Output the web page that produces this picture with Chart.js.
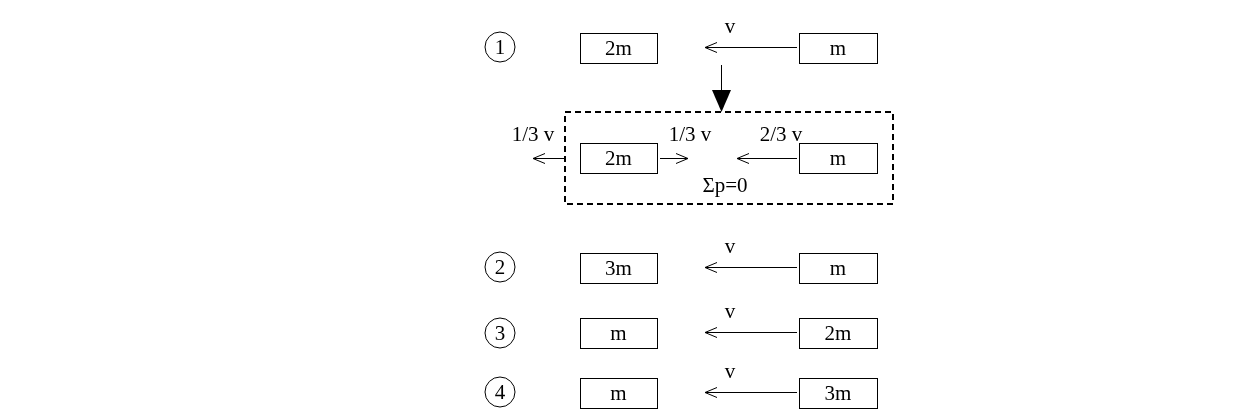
<!DOCTYPE html>
<html>
<head>
<meta charset="utf-8">
<script src="https://cdn.jsdelivr.net/npm/chart.js@4/dist/chart.umd.min.js"></script>
<style>
  html, body { margin: 0; padding: 0; background: #fff; }
  #wrap { width: 1241px; height: 413px; }
</style>
</head>
<body>
<div id="wrap"><canvas id="diagram"></canvas></div>
<script>
// boxes: [x1, y1, x2, y2, label]
const boxes = [
  [580, 33, 657, 63, "2m"], [799, 33, 877, 63, "m"],
  [580, 143, 657, 173, "2m"], [799, 143, 877, 173, "m"],
  [580, 253, 657, 283, "3m"], [799, 253, 877, 283, "m"],
  [580, 318, 657, 348, "m"], [799, 318, 877, 348, "2m"],
  [580, 378, 657, 408, "m"], [799, 378, 877, 408, "3m"]
];
// arrows: [fromX, fromY, toX, toY]
const arrows = [
  [797, 47, 705, 47], [564, 158, 533, 158], [660, 158, 688, 158],
  [797, 158, 737, 158], [797, 267, 705, 267], [797, 332, 705, 332],
  [797, 392, 705, 392]
];
// labels: [x, y, text]
const labels = [
  [730, 27, "v"], [533, 135, "1/3 v"], [690, 135, "1/3 v"], [781, 135, "2/3 v"],
  [725, 186, "Σp=0"], [730, 247, "v"], [730, 312, "v"], [730, 372, "v"]
];
// circled numbers: [x, y, text]
const circles = [[500, 47, "1"], [500, 267, "2"], [500, 333, "3"], [500, 392, "4"]];
const dashedFrame = [565, 112, 893, 204];
const downArrow = [721, 65, 721, 112];

const diagramPlugin = {
  id: "diagram",
  afterDraw(chart) {
    const ctx = chart.ctx;
    const X = (v) => chart.scales.x.getPixelForValue(v);
    const Y = (v) => chart.scales.y.getPixelForValue(v);
    ctx.save();
    ctx.strokeStyle = "#000";
    ctx.fillStyle = "#000";
    ctx.lineWidth = 1;
    ctx.font = "21px 'Liberation Serif', serif";
    ctx.textAlign = "center";
    ctx.textBaseline = "middle";

    boxes.forEach(([x1, y1, x2, y2, t]) => {
      ctx.strokeRect(X(x1) + 0.5, Y(y1) + 0.5, X(x2) - X(x1), Y(y2) - Y(y1));
      ctx.fillText(t, X((x1 + x2) / 2), Y((y1 + y2) / 2) + 1);
    });

    arrows.forEach(([x1, y1, x2, y2]) => {
      const dir = Math.sign(x2 - x1);
      ctx.beginPath();
      ctx.moveTo(X(x1), Y(y1) + 0.5);
      ctx.lineTo(X(x2), Y(y2) + 0.5);
      ctx.moveTo(X(x2) - dir * 12, Y(y2) - 4.5);
      ctx.lineTo(X(x2), Y(y2) + 0.5);
      ctx.lineTo(X(x2) - dir * 12, Y(y2) + 5.5);
      ctx.stroke();
    });

    // down arrow with filled head
    ctx.beginPath();
    ctx.moveTo(X(downArrow[0]) + 0.5, Y(downArrow[1]));
    ctx.lineTo(X(downArrow[2]) + 0.5, Y(downArrow[3]) - 10);
    ctx.stroke();
    ctx.beginPath();
    ctx.moveTo(X(downArrow[2]) - 9, Y(downArrow[3]) - 22);
    ctx.lineTo(X(downArrow[2]) + 10, Y(downArrow[3]) - 22);
    ctx.lineTo(X(downArrow[2]) + 0.5, Y(downArrow[3]));
    ctx.closePath();
    ctx.fill();

    // dashed frame
    ctx.lineWidth = 2;
    ctx.setLineDash([6, 4]);
    const [fx1, fy1, fx2, fy2] = dashedFrame;
    ctx.strokeRect(X(fx1), Y(fy1), X(fx2) - X(fx1), Y(fy2) - Y(fy1));
    ctx.setLineDash([]);
    ctx.lineWidth = 1;

    labels.forEach(([x, y, t]) => ctx.fillText(t, X(x), Y(y)));

    circles.forEach(([x, y, t]) => {
      ctx.beginPath();
      ctx.arc(X(x), Y(y), 15, 0, Math.PI * 2);
      ctx.stroke();
      ctx.fillText(t, X(x), Y(y) + 1);
    });
    ctx.restore();
  }
};

new Chart(document.getElementById("diagram"), {
  type: "scatter",
  data: { datasets: [{ data: [], pointRadius: 0 }] },
  options: {
    responsive: true,
    maintainAspectRatio: false,
    animation: false,
    layout: { padding: 0 },
    plugins: { legend: { display: false }, tooltip: { enabled: false } },
    scales: {
      x: { type: "linear", min: 0, max: 1241, display: false },
      y: { type: "linear", min: 0, max: 413, reverse: true, display: false }
    }
  },
  plugins: [diagramPlugin]
});
</script>
</body>
</html>
